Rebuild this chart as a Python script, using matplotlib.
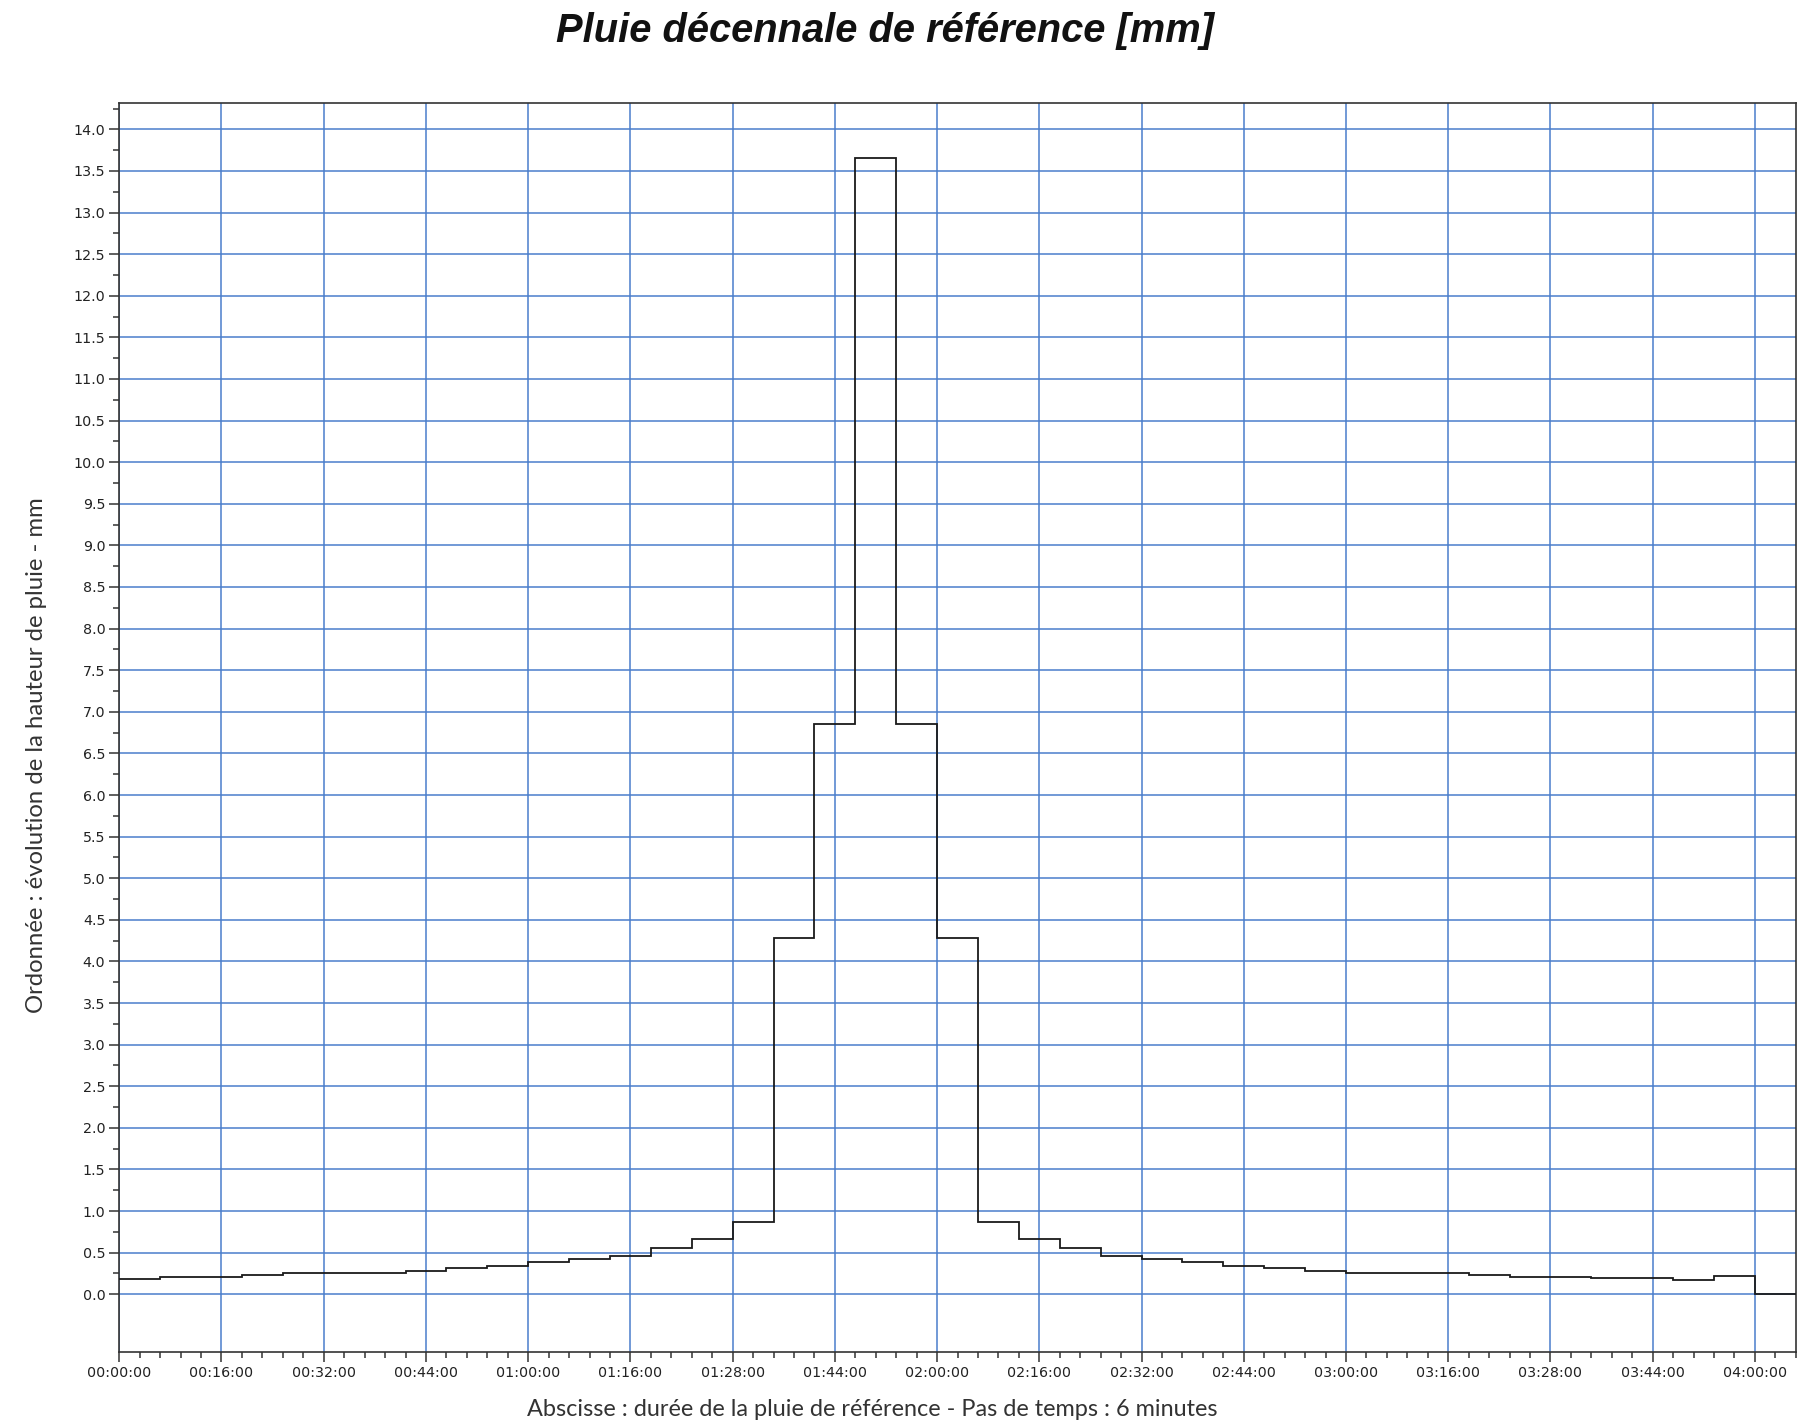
import numpy as np
import matplotlib
matplotlib.use("Agg")
import matplotlib.pyplot as plt
from matplotlib.ticker import MultipleLocator, FixedLocator, FixedFormatter

# rainfall depth per 6-minute step [mm]
step_minutes = 6
rain_before_peak = [0.18, 0.21, 0.21, 0.235, 0.26, 0.26, 0.26, 0.28, 0.32, 0.34,
                    0.385, 0.42, 0.465, 0.55, 0.66, 0.87]
rain_peak = [4.28, 6.85, 13.65, 6.85, 4.28]
rain_after_peak = [0.87, 0.66, 0.55, 0.465, 0.42, 0.385, 0.34, 0.32, 0.28, 0.26,
                   0.26, 0.26, 0.235, 0.21, 0.21, 0.19, 0.19, 0.17, 0.215]
rain_tail = [0.0]

x_tick_minutes = list(range(0, 241, 15))
x_tick_labels = ["00:00:00", "00:16:00", "00:32:00", "00:44:00", "01:00:00",
                 "01:16:00", "01:28:00", "01:44:00", "02:00:00", "02:16:00",
                 "02:32:00", "02:44:00", "03:00:00", "03:16:00", "03:28:00",
                 "03:44:00", "04:00:00"]

title = "Pluie décennale de référence [mm]"
x_label = "Abscisse : durée de la pluie de référence - Pas de temps : 6 minutes"
y_label = "Ordonnée : évolution de la hauteur de pluie - mm"

grid_blue = "#4a7dcb"

values = np.array(rain_before_peak + rain_peak + rain_after_peak + rain_tail)
edges = np.arange(len(values) + 1) * step_minutes

fig = plt.figure(figsize=(17.99, 14.27), dpi=100)
ax = fig.add_axes([0.0663, 0.0528, 0.9319, 0.8752])

ax.stairs(values, edges, baseline=None, color="#1a1a1a", linewidth=1.3, zorder=3)

ax.set_xlim(0, edges[-1])
ax.set_ylim(-0.69, 14.32)

ax.xaxis.set_major_locator(FixedLocator(x_tick_minutes))
ax.xaxis.set_major_formatter(FixedFormatter(x_tick_labels))
ax.xaxis.set_minor_locator(MultipleLocator(3))
ax.yaxis.set_major_locator(FixedLocator(np.arange(0, 14.01, 0.5)))
ax.yaxis.set_minor_locator(FixedLocator(np.arange(0.25, 14.3, 0.5)))
ax.yaxis.set_major_formatter(matplotlib.ticker.FormatStrFormatter("%.1f"))

ax.grid(True, which="major", color=grid_blue, linewidth=1.1, zorder=1)
ax.set_axisbelow(True)

for side in ["left", "bottom", "top", "right"]:
    ax.spines[side].set_color("#333333")
    ax.spines[side].set_linewidth(1.2)

ax.tick_params(which="major", direction="out", length=7, width=1.1,
               color="#333333", labelsize=10.3, labelcolor="#222222", pad=3)
ax.tick_params(which="minor", direction="out", length=4.3, width=1.1,
               color="#333333")
for lab in ax.get_xticklabels() + ax.get_yticklabels():
    lab.set_family("DejaVu Sans")

fig.text(0.492, 0.9705, title, ha="center", va="baseline",
         fontsize=28.7, fontweight="bold", fontstyle="italic",
         family="Liberation Sans", color="#111111")
fig.text(0.4847, 0.0075, x_label, ha="center", va="baseline",
         fontsize=16.9, family="Lato", color="#333333")
fig.text(0.0204, 0.471, y_label, ha="center", va="center", rotation=90,
         fontsize=17.2, family="Lato", color="#333333")

fig.savefig("out.png", dpi=100)
